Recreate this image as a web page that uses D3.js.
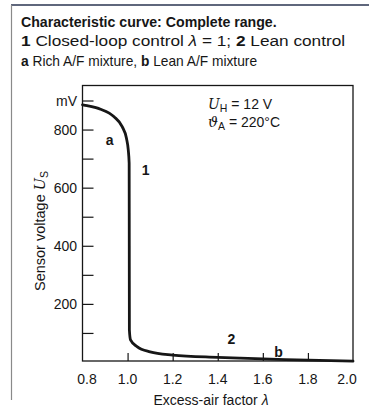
<!DOCTYPE html>
<html><head><meta charset="utf-8">
<script src="https://cdn.jsdelivr.net/npm/d3@7"></script>
<style>
html,body{margin:0;padding:0;background:#fff;}
svg{display:block;font-family:"Liberation Sans",Arial,Helvetica,sans-serif;}
</style></head>
<body>
<svg id="chart" width="369" height="412"></svg>
<script>
// ---- data ----
const lambda = [0.8, 0.82, 0.88, 0.94, 0.976, 0.995, 1.003, 1.007, 1.0075, 1.008, 1.013, 1.042, 1.1, 1.2, 1.4, 1.5, 1.7, 2.0];
const voltage = [885, 882, 870, 844, 810, 770, 730, 684, 400, 110, 76, 53, 35, 24, 16, 13, 8, 3];
const xTicks = [0.8, 1.0, 1.2, 1.4, 1.6, 1.8, 2.0];
const xTickLabels = ["0.8", "1.0", "1.2", "1.4", "1.6", "1.8", "2.0"];
const yTicks = [100, 200, 300, 400, 500, 600, 700, 800, 900];
const yTickLabels = {200: "200", 400: "400", 600: "600", 800: "800", 900: "mV"};

const svg = d3.select("#chart");
const ink = "#161616";

const x = d3.scaleLinear().domain([0.8, 2.0]).range([82.5, 353]);
const y = d3.scaleLinear().domain([0, 900]).range([362, 100.5]);
const frameTop = 85.5, frameBottom = 361;

// outer page frame
svg.append("line").attr("x1", 11).attr("x2", 369).attr("y1", 5).attr("y2", 5)
  .attr("stroke", "#2a3550").attr("stroke-width", 1.5);
svg.append("line").attr("x1", 11.5).attr("x2", 11.5).attr("y1", 5).attr("y2", 400)
  .attr("stroke", "#8a8a8a").attr("stroke-width", 1.2);

// title lines: horizontally scaled to the reference widths
function fitWidth(sel, x0, y0, target) {
  const w = sel.node().getComputedTextLength();
  sel.attr("transform", `translate(${x0},${y0}) scale(${(target / w).toFixed(4)},1)`);
}
const t1 = svg.append("text").attr("font-size", 13.8)
  .attr("font-weight", "bold").attr("fill", ink)
  .text("Characteristic curve: Complete range.");
fitWidth(t1, 21, 27, 256);
const t2 = svg.append("text").attr("font-size", 14.4).attr("fill", ink);
t2.append("tspan").attr("font-weight", "bold").text("1");
t2.append("tspan").text(" Closed-loop control ");
t2.append("tspan").attr("font-style", "italic").text("λ");
t2.append("tspan").text(" = 1; ");
t2.append("tspan").attr("font-weight", "bold").text("2");
t2.append("tspan").text(" Lean control");
fitWidth(t2, 21, 46, 324);
const t3 = svg.append("text").attr("font-size", 14.2).attr("fill", ink);
t3.append("tspan").attr("font-weight", "bold").text("a");
t3.append("tspan").text(" Rich A/F mixture, ");
t3.append("tspan").attr("font-weight", "bold").text("b");
t3.append("tspan").text(" Lean A/F mixture");
fitWidth(t3, 21, 65.5, 236);

// plot frame
svg.append("rect").attr("x", x(0.8)).attr("y", frameTop).attr("width", x(2.0) - x(0.8)).attr("height", frameBottom - frameTop)
  .attr("fill", "none").attr("stroke", ink).attr("stroke-width", 1.3);

// y axis ticks (inward)
const yAxis = d3.axisRight(y).tickValues(yTicks).tickSize(11).tickFormat("");
svg.append("g").attr("transform", `translate(${x(0.8)},0)`).call(yAxis)
  .call(g => g.select(".domain").remove())
  .call(g => g.selectAll("line").attr("stroke", ink).attr("stroke-width", 1.2));
svg.append("g").selectAll("text").data(yTicks.filter(d => yTickLabels[d]))
  .join("text").attr("x", 77).attr("y", d => y(d)).attr("dy", "0.36em")
  .attr("text-anchor", "end").attr("font-size", 14).attr("fill", ink)
  .text(d => yTickLabels[d]);

// x axis ticks (inward)
const xAxis = d3.axisTop(x).tickValues(xTicks.slice(1, -1)).tickSize(8).tickFormat("");
svg.append("g").attr("transform", `translate(0,${frameBottom})`).call(xAxis)
  .call(g => g.select(".domain").remove())
  .call(g => g.selectAll("line").attr("stroke", ink).attr("stroke-width", 1.2));
const xLabelShift = {0.8: 4.5, 2.0: -6};
svg.append("g").selectAll("text").data(xTicks)
  .join("text").attr("x", d => x(d) + (xLabelShift[d] || 0)).attr("y", 383.5)
  .attr("text-anchor", "middle").attr("font-size", 14).attr("fill", ink)
  .text((d, i) => xTickLabels[i]);

// axis titles
const xt = svg.append("text").attr("x", 211).attr("y", 404.5).attr("text-anchor", "middle")
  .attr("font-size", 14).attr("fill", ink);
xt.append("tspan").text("Excess-air factor ");
xt.append("tspan").attr("font-style", "italic").text("λ");

const yt = svg.append("text").attr("transform", "translate(44.5,231) rotate(-90)")
  .attr("text-anchor", "middle").attr("font-size", 14.5).attr("fill", ink);
yt.append("tspan").text("Sensor voltage ");
yt.append("tspan").attr("font-style", "italic").attr("font-family", "'DejaVu Serif',serif").text("U");
yt.append("tspan").attr("font-size", 10.5).attr("dy", 3).text("S");

// curve
const line = d3.line().x((d, i) => x(lambda[i])).y(d => y(d)).curve(d3.curveMonotoneX);
svg.append("path").datum(voltage).attr("d", line)
  .attr("fill", "none").attr("stroke", ink).attr("stroke-width", 2.8)
  .attr("stroke-linejoin", "round").attr("stroke-linecap", "round");

// curve labels
const marks = [{t: "a", lx: 0.92, v: 765}, {t: "1", lx: 1.08, v: 660}, {t: "2", lx: 1.46, v: 80}, {t: "b", lx: 1.67, v: 35}];
svg.append("g").selectAll("text").data(marks).join("text")
  .attr("x", d => x(d.lx)).attr("y", d => y(d.v)).attr("dy", "0.36em")
  .attr("text-anchor", "middle").attr("font-size", 14).attr("font-weight", "bold").attr("fill", ink)
  .text(d => d.t);

// conditions
const c1 = svg.append("text").attr("x", 208).attr("y", 109).attr("font-size", 14).attr("fill", ink);
c1.append("tspan").attr("font-style", "italic").attr("font-family", "'DejaVu Serif',serif").text("U");
c1.append("tspan").attr("font-size", 10.5).attr("dy", 3).text("H");
c1.append("tspan").attr("dy", -3).text(" = 12 V");
const c2 = svg.append("text").attr("x", 208).attr("y", 127).attr("font-size", 14).attr("fill", ink);
c2.append("tspan").attr("font-style", "italic").attr("font-family", "'DejaVu Serif',serif").text("ϑ");
c2.append("tspan").attr("font-size", 10.5).attr("dy", 3).text("A");
c2.append("tspan").attr("dy", -3).text(" = 220°C");
</script>
</body></html>
